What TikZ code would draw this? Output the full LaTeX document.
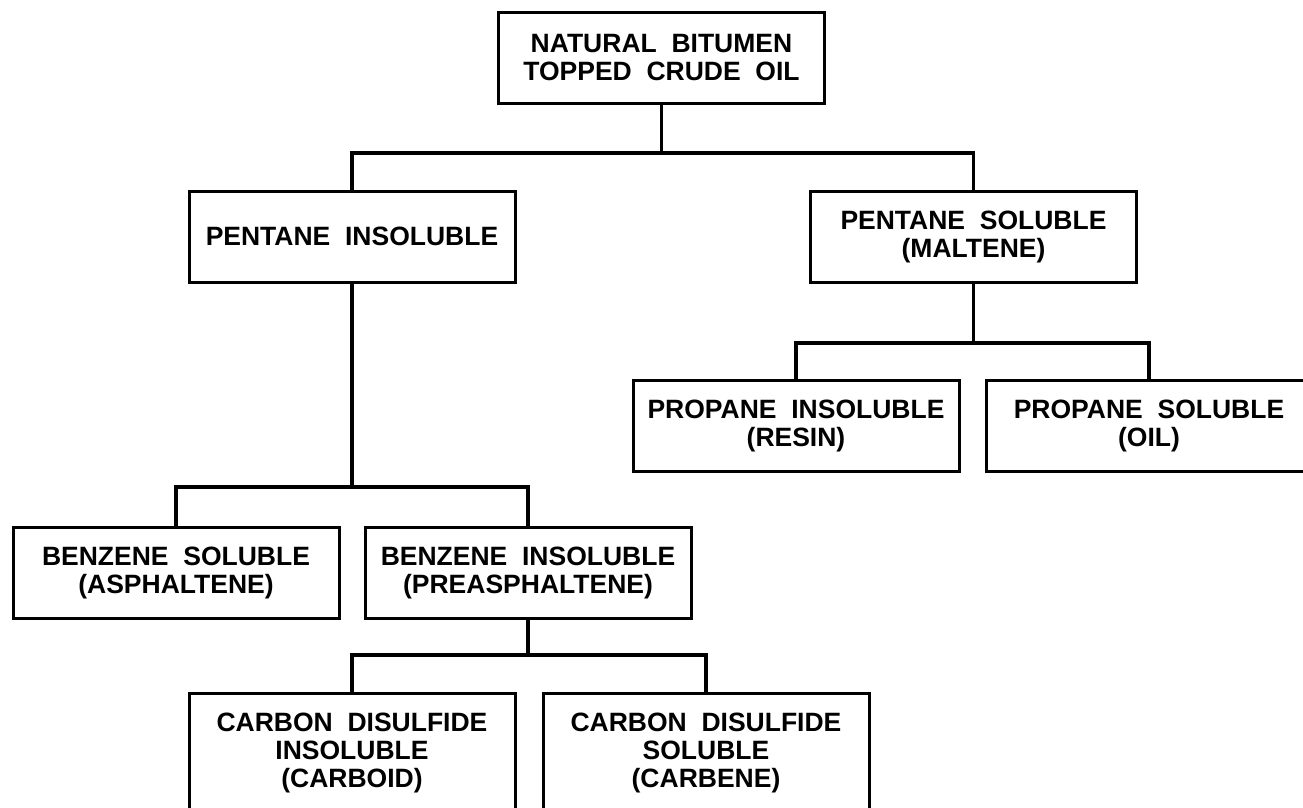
\documentclass[tikz,border=0pt]{standalone}
\usepackage{fontspec}
\setmainfont{Liberation Sans}
\usepackage{tikz}

\begin{document}
\begin{tikzpicture}[x=1pt, y=-1pt,
    fracbox/.style={draw, line width=3pt, align=center, inner sep=0pt,
      minimum width=326pt, minimum height=91pt,
      font=\fontsize{26.5}{28}\selectfont\bfseries},
    tallbox/.style={fracbox, minimum height=120pt},
    link/.style={line width=3.5pt}]
  \useasboundingbox (0,0) rectangle (1303,807);
  \node[fracbox] (top) at (661.5,57.5) {NATURAL~~BITUMEN\\TOPPED~~CRUDE~~OIL};
  \node[fracbox] (pi) at (352,236.5) {PENTANE~~INSOLUBLE};
  \node[fracbox] (ps) at (973.5,237) {PENTANE~~SOLUBLE\\(MALTENE)};
  \node[fracbox] (pri) at (796,426) {PROPANE~~INSOLUBLE\\(RESIN)};
  \node[fracbox] (prs) at (1149,426) {PROPANE~~SOLUBLE\\(OIL)};
  \node[fracbox] (bs) at (176,572.5) {BENZENE~~SOLUBLE\\(ASPHALTENE)};
  \node[fracbox] (bi) at (528,572.5) {BENZENE~~INSOLUBLE\\(PREASPHALTENE)};
  \node[tallbox] (cdi) at (352,753) {CARBON~~DISULFIDE\\INSOLUBLE\\(CARBOID)};
  \node[tallbox] (cds) at (706,753) {CARBON~~DISULFIDE\\SOLUBLE\\(CARBENE)};
  % split bars
  \foreach \up/\lft/\rgt/\ybar in {top/pi/ps/153, ps/pri/prs/343, pi/bs/bi/487, bi/cdi/cds/655} {
    \coordinate (j-\up) at (\up |- 0,\ybar);
    \draw[link] (\up) -- (j-\up);
    \draw[link] (\lft.north) |- (j-\up) -| (\rgt.north);
  }
\end{tikzpicture}
\end{document}
